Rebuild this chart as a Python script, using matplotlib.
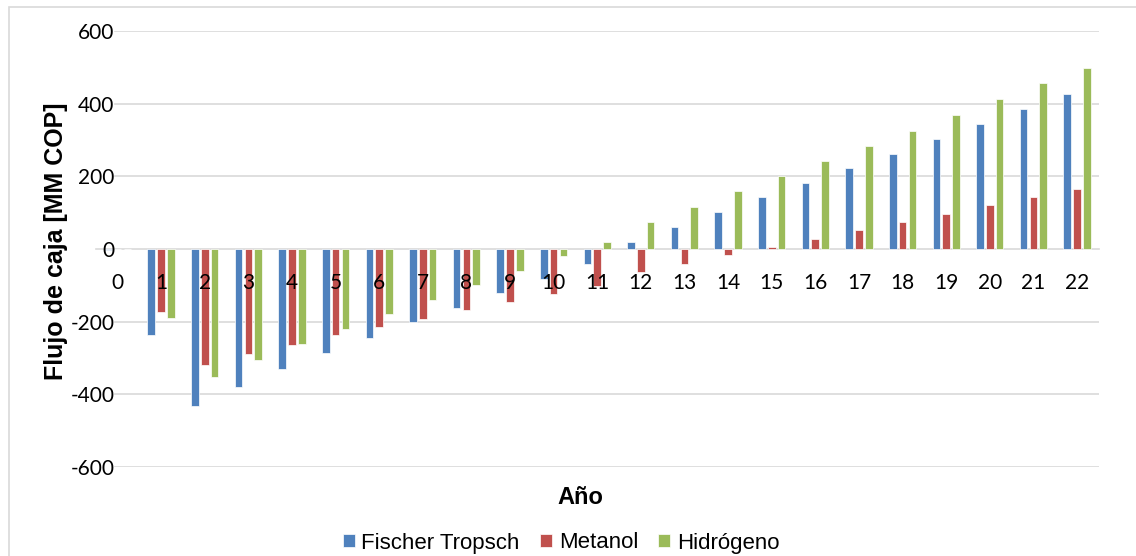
import numpy as np
import matplotlib.pyplot as plt
from matplotlib.patches import Rectangle

years = list(range(23))
fischer = [-2, -237, -433, -380, -331, -287, -245, -202, -163, -122, -82, -40, 20,
           60, 101, 142, 182, 222, 262, 303, 344, 386, 426]
metanol = [-1, -174, -319, -289, -263, -238, -216, -192, -169, -146, -123, -101, -62,
           -40, -17, 5, 28, 51, 73, 97, 120, 143, 166]
hidrogeno = [-1, -191, -352, -305, -261, -219, -179, -139, -99, -60, -20, 18, 75,
             116, 159, 200, 241, 283, 326, 370, 412, 456, 499]
series = ["Fischer Tropsch", "Metanol", "Hidrógeno"]
yticks = [-600, -400, -200, 0, 200, 400, 600]

colors = ["#4F81BD", "#C0504D", "#9BBB59"]
grid_c = "#D9D9D9"

fig = plt.figure(figsize=(11.36, 5.56), dpi=100)
ax = fig.add_axes([95.7/1136, 1-467/556, (1098.8-95.7)/1136, (467-31)/556])
ax.set_axisbelow(False)  # tick labels sit on top of the bars

x = np.arange(len(years))
w = 0.175
off = 0.225
for i, (vals, name) in enumerate(zip([fischer, metanol, hidrogeno], series)):
    ax.bar(x + (i-1)*off, vals, width=w, color=colors[i], edgecolor="white",
           linewidth=0.5, label=name, zorder=1)

ax.set_xlim(-0.5, len(years)-0.5)
ax.set_ylim(-600, 600)

for t in yticks:
    if t != 0:
        ax.axhline(t, xmin=0.019, xmax=1, color=grid_c, lw=1.2, zorder=0)

for s in ["top", "right", "left"]:
    ax.spines[s].set_visible(False)
ax.spines["bottom"].set_position(("data", 0))
ax.spines["bottom"].set_color(grid_c)
ax.spines["bottom"].set_linewidth(1.2)
ax.spines["bottom"].set_zorder(0.5)

ax.set_xticks(x)
ax.set_xticklabels([str(y) for y in years], fontsize=15, family="Lato")
ax.set_yticks(yticks)
ax.set_yticklabels([str(t) for t in yticks], fontsize=15, family="Lato")
ax.tick_params(axis="x", length=0, pad=17)
ax.tick_params(axis="y", length=0, pad=-13.5)

fig.text(56/1136, 1-241/556, "Flujo de caja [MM COP]", rotation=90, ha="center",
         va="center", fontsize=18, fontweight="bold", family="Liberation Sans")
fig.text(580/1136, 1-497/556, "Año", ha="center", va="center", fontsize=17,
         fontweight="bold", family="Liberation Sans")

fig.legend(loc="center", bbox_to_anchor=(561/1136, 1-543/556), ncol=3, frameon=False,
           prop={"family": "Liberation Sans", "size": 16}, handlelength=0.55,
           handleheight=0.55, handletextpad=0.3, columnspacing=0.9, borderaxespad=0)

fig.patches.append(Rectangle((9/1136, -0.05), 1.1, 1.05-7/556, transform=fig.transFigure,
                             fill=False, edgecolor=grid_c, lw=1.2))

fig.savefig("out.png", dpi=100)
